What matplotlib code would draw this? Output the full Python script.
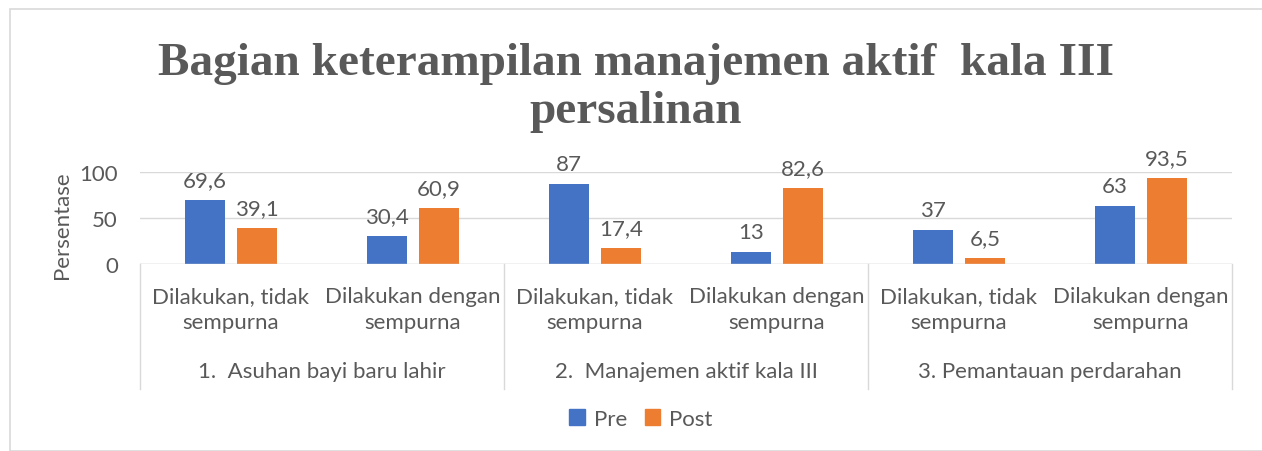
import numpy as np
import matplotlib.pyplot as plt
from matplotlib.patches import Rectangle
from matplotlib.transforms import blended_transform_factory

# data
groups = ["1.  Asuhan bayi baru lahir", "2.  Manajemen aktif kala III", "3. Pemantauan perdarahan"]
sub_labels = ["Dilakukan, tidak\nsempurna", "Dilakukan dengan\nsempurna"] * 3
pre = [69.6, 30.4, 87, 13, 37, 63]
post = [39.1, 60.9, 17.4, 82.6, 6.5, 93.5]
series_names = ["Pre", "Post"]
yticks = [0, 50, 100]

blue = "#4472C4"
orange = "#ED7D31"
txt = "#595959"
grid = "#D9D9D9"
font = "Lato"
fs = 16

W, H = 1262, 452
fig = plt.figure(figsize=(W / 100, H / 100), dpi=100)
plt.rcParams['font.family'] = [font, 'DejaVu Sans']

def fy(py):
    return 1 - py / H

ax = fig.add_axes([140 / W, fy(265), (1232 - 140) / W, (265 - 173) / H])

x = np.arange(len(pre))
w = 0.22
off = 0.143
b1 = ax.bar(x - off, pre, w, color=blue, label=series_names[0], zorder=3)
b2 = ax.bar(x + off, post, w, color=orange, label=series_names[1], zorder=3)

def fmt(v):
    return ("%g" % v).replace(".", ",")

for bars, vals in ((b1, pre), (b2, post)):
    for r, v in zip(bars, vals):
        ax.annotate(fmt(v), (r.get_x() + r.get_width() / 2, v), xytext=(0, 7),
                    textcoords="offset points", ha="center", va="bottom",
                    fontsize=fs, color=txt, annotation_clip=False)

ax.set_xlim(-0.5, len(pre) - 0.5)
ax.set_ylim(0, 100)
ax.set_yticks(yticks)
ax.set_yticklabels([str(t) for t in yticks])
ax.tick_params(axis="y", length=0, labelsize=fs, labelcolor=txt, pad=16)
ax.set_xticks([])
ax.grid(axis="y", color=grid, lw=1, zorder=0)
for s in ax.spines.values():
    s.set_visible(False)
ax.axhline(0, color=grid, lw=1, zorder=4)
ax.set_ylabel("Persentase", fontsize=fs, color=txt)
ax.yaxis.set_label_coords(-0.062, 0.43)

# category labels
tr = blended_transform_factory(ax.transData, fig.transFigure)
for xi, lab in zip(x, sub_labels):
    fig.text(xi, fy(310), lab, transform=tr, ha="center", va="center",
             fontsize=fs, color=txt, linespacing=1.35)
for gi, g in enumerate(groups):
    fig.text(gi * 2 + 0.5, fy(372), g, transform=tr, ha="center", va="center",
             fontsize=fs, color=txt)
for sx in [-0.5, 1.5, 3.5, 5.5]:
    fig.add_artist(plt.Line2D([sx, sx], [fy(265), fy(390)], transform=tr,
                              color=grid, lw=1))

# title
fig.text(636 / W, fy(88), "Bagian keterampilan manajemen aktif  kala III\npersalinan",
         ha="center", va="center", fontsize=34, fontweight="bold", color=txt,
         family="Liberation Serif", linespacing=1.2)

# legend
handles = [Rectangle((0, 0), 1, 1, color=blue), Rectangle((0, 0), 1, 1, color=orange)]
fig.legend(handles, series_names, loc="center", bbox_to_anchor=(641 / W, fy(420)),
           ncol=2, frameon=False, fontsize=fs, handlelength=0.7, handleheight=0.7,
           handletextpad=0.4, columnspacing=0.8, labelcolor=txt)

# outer border
fig.add_artist(Rectangle((10 / W, 0), 1, fy(10), transform=fig.transFigure,
                         fill=False, edgecolor=grid, lw=1.2))

fig.savefig("out.png", dpi=100)
